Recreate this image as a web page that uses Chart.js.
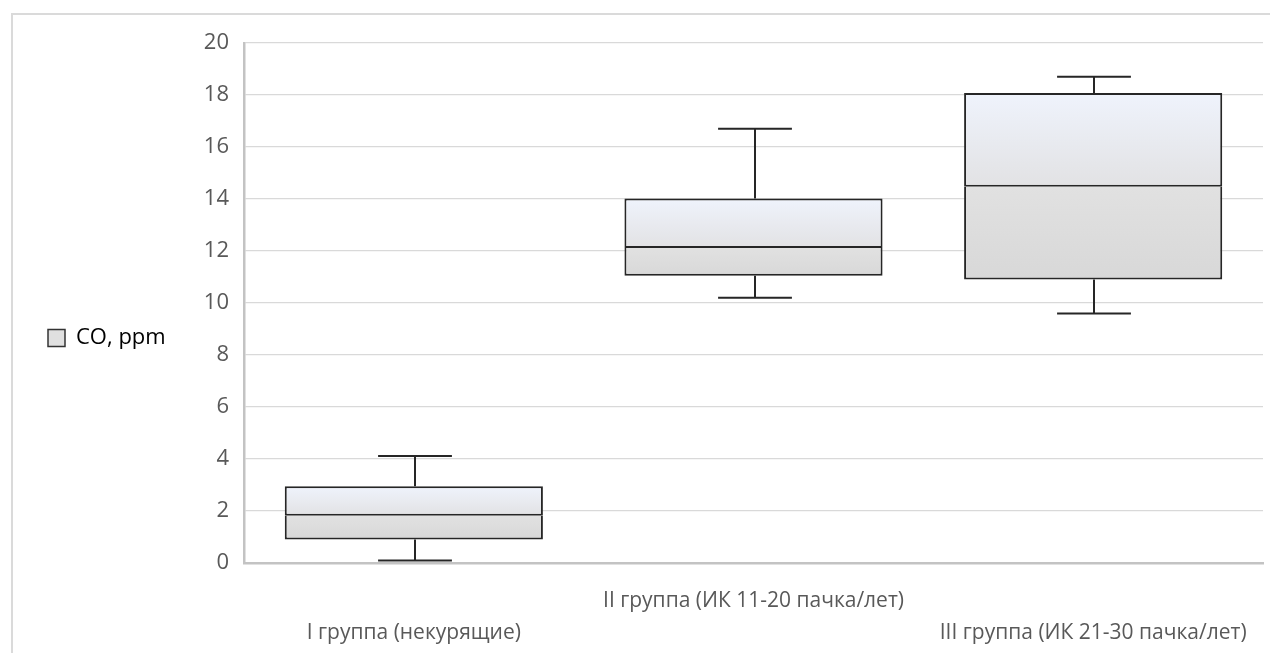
<!DOCTYPE html>
<html>
<head>
<meta charset="utf-8">
<script src="https://cdn.jsdelivr.net/npm/chart.js@4.4.1/dist/chart.umd.min.js"></script>
<style>
  html, body { margin: 0; padding: 0; background: #fff; overflow: hidden; }
  #frame {
    position: absolute; left: 11px; top: 13px;
    width: 1300px; height: 700px;
    border-left: 2px solid #dadada; border-top: 2px solid #dadada;
  }
  #chart { position: absolute; left: 0; top: 0; }
</style>
</head>
<body>
<div id="frame"><canvas id="chart" width="1257" height="638"></canvas></div>
<script>
// data (CO, ppm)
const categories = [
  ['', 'I группа (некурящие)'],
  ['II группа (ИК 11-20 пачка/лет)', ''],
  ['', 'III группа (ИК 21-30 пачка/лет)']
];
const minValues = [0.1, 10.2, 9.6];
const q1Values = [0.9, 11.05, 10.9];
const medianValues = [1.82, 12.12, 14.47];
const q3Values = [2.95, 14.02, 18.08];
const maxValues = [4.12, 16.7, 18.7];
const yTicks = { min: 0, max: 20, step: 2 };
const seriesName = 'CO, ppm';

const PLOT_LEFT = 231; // where the value axis sits in canvas px
const PLOT_TOP = 28;

// gradient per box segment, built from the y scale
function boxFill(topColor, bottomColor) {
  return (ctx) => {
    const chart = ctx.chart;
    if (!chart.chartArea || ctx.type !== 'data' || !ctx.raw) return bottomColor;
    const y = chart.scales.y;
    const [lo, hi] = ctx.raw;
    const g = chart.ctx.createLinearGradient(0, y.getPixelForValue(hi), 0, y.getPixelForValue(lo));
    g.addColorStop(0, topColor);
    g.addColorStop(1, bottomColor);
    return g;
  };
}

const whiskers = {
  id: 'whiskers',
  afterDatasetsDraw(chart) {
    const { ctx, scales: { y } } = chart;
    const meta = chart.getDatasetMeta(0);
    ctx.save();
    ctx.strokeStyle = '#262626';
    ctx.lineWidth = 2;
    categories.forEach((c, i) => {
      const bar = meta.data[i];
      const cx = Math.round(bar.x) + 1;
      const half = bar.width * 0.143;
      [[q3Values[i], maxValues[i]], [q1Values[i], minValues[i]]].forEach(([from, to]) => {
        const y0 = y.getPixelForValue(from);
        const y1 = y.getPixelForValue(to);
        ctx.beginPath();
        ctx.moveTo(cx, y0);
        ctx.lineTo(cx, y1);
        ctx.moveTo(cx - half, y1);
        ctx.lineTo(cx + half, y1);
        ctx.stroke();
      });
    });
    ctx.restore();
  }
};

const boxStyle = {
  borderColor: '#262626',
  borderWidth: 2,
  grouped: false,
  categoryPercentage: 0.76,
  barPercentage: 1
};

new Chart(document.getElementById('chart'), {
  type: 'bar',
  data: {
    labels: categories,
    datasets: [
      {
        label: seriesName,
        data: q1Values.map((v, i) => [v, medianValues[i]]),
        backgroundColor: boxFill('#e1e1e1', '#d8d8d8'),
        borderSkipped: 'top',
        ...boxStyle
      },
      {
        label: seriesName,
        data: medianValues.map((v, i) => [v, q3Values[i]]),
        backgroundColor: boxFill('#eff3fc', '#e2e2e4'),
        borderSkipped: false,
        ...boxStyle
      }
    ]
  },
  options: {
    responsive: false,
    animation: false,
    layout: { padding: { left: 25, top: 14, right: 7, bottom: 6 } },
    plugins: {
      tooltip: { enabled: false },
      legend: {
        position: 'left',
        labels: {
          boxWidth: 17,
          boxHeight: 17,
          padding: 10,
          color: '#595959',
          font: { family: 'Open Sans', size: 22 },
          generateLabels: () => [{
            text: seriesName,
            fillStyle: '#e0e0e0',
            strokeStyle: '#333333',
            lineWidth: 1.5,
            datasetIndex: 0
          }]
        }
      }
    },
    scales: {
      x: {
        grid: { display: false },
        border: { color: '#c3c3c3', width: 2.5 },
        ticks: {
          color: '#595959',
          font: { family: 'Open Sans', size: 21, lineHeight: 1.52 },
          padding: 14,
          maxRotation: 0,
          minRotation: 0,
          autoSkip: false
        },
        afterFit(scale) {
          scale.height = 84;
        }
      },
      y: {
        min: yTicks.min,
        max: yTicks.max,
        grid: { color: '#d9d9d9', lineWidth: 1.3, drawTicks: false },
        border: { color: '#c3c3c3', width: 2.5 },
        ticks: {
          stepSize: yTicks.step,
          color: '#595959',
          font: { family: 'Open Sans', size: 22 },
          padding: 15
        },
        afterFit(scale) {
          const legend = scale.chart.legend;
          const used = 25 + (legend ? legend.width : 0);
          scale.width = Math.max(scale.width, PLOT_LEFT - used);
          scale.paddingTop = PLOT_TOP;
        }
      }
    }
  },
  plugins: [whiskers]
});
</script>
</body>
</html>
